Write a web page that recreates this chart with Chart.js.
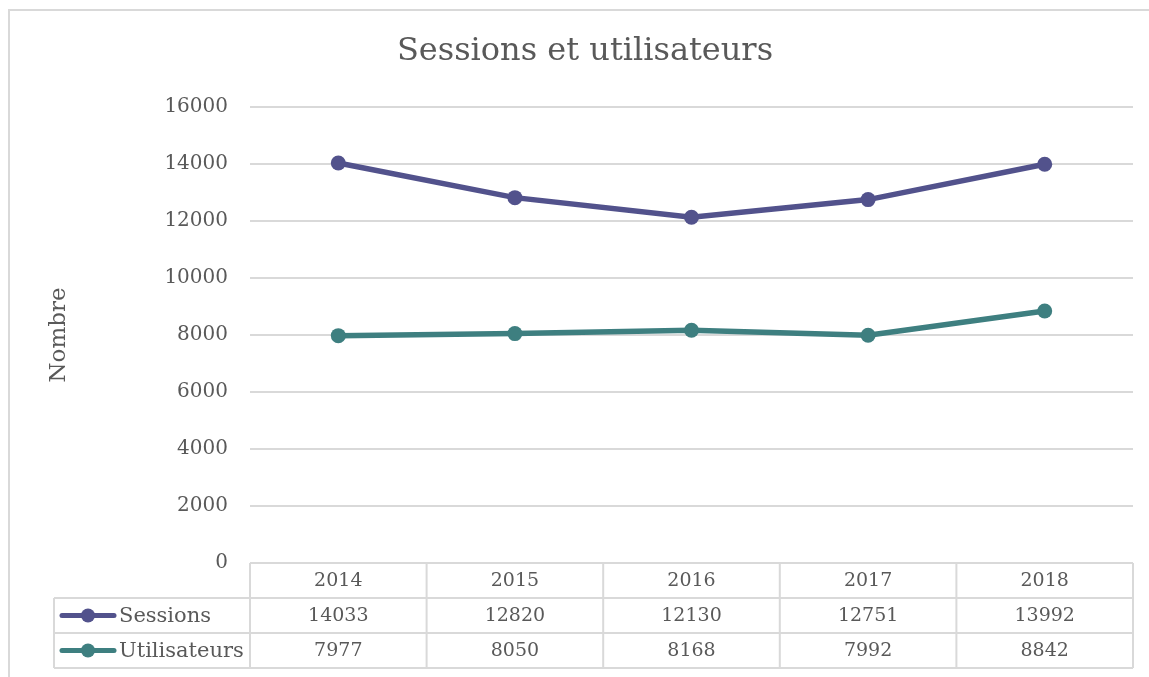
<!DOCTYPE html>
<html>
<head>
<meta charset="utf-8">
<script src="https://cdn.jsdelivr.net/npm/chart.js@4"></script>
<style>
  body { margin: 0; background: #fff; }
  #wrap { width: 1149px; height: 677px; }
</style>
</head>
<body>
<div id="wrap"><canvas id="sessionsChart"></canvas></div>
<script>
'use strict';

let years = ['2014', '2015', '2016', '2017', '2018'];
let sessions = [14033, 12820, 12130, 12751, 13992];
let utilisateurs = [7977, 8050, 8168, 7992, 8842];
let yTicks = [0, 2000, 4000, 6000, 8000, 10000, 12000, 14000, 16000];

let textColor = '#595959';
let gridColor = '#d9d9d9';
let serif = "'DejaVu Serif', Georgia, serif";

// excel-like data table under the plot, plus the outer frame and title
let tablePlugin = {
  id: 'dataTable',
  afterDraw(chart) {
    let ctx = chart.ctx;
    let area = chart.chartArea;
    let xScale = chart.scales.x;
    let rowH = 35;
    let top = area.bottom;
    let legendLeft = 54;

    ctx.save();
    // outer frame
    ctx.strokeStyle = gridColor;
    ctx.lineWidth = 2;
    ctx.beginPath();
    ctx.moveTo(9, 677);
    ctx.lineTo(9, 10);
    ctx.lineTo(1149, 10);
    ctx.stroke();

    // title
    ctx.fillStyle = textColor;
    ctx.font = '32px ' + serif;
    ctx.textAlign = 'center';
    ctx.textBaseline = 'middle';
    ctx.fillText('Sessions et utilisateurs', 585, 52);

    // column edges
    let edges = [area.left];
    for (let i = 0; i < years.length - 1; i++) {
      edges.push((xScale.getPixelForValue(i) + xScale.getPixelForValue(i + 1)) / 2);
    }
    edges.push(area.right);

    ctx.strokeStyle = gridColor;
    ctx.lineWidth = 2;
    ctx.beginPath();
    // horizontal lines
    ctx.moveTo(area.left, top);
    ctx.lineTo(area.right, top);
    for (let r = 1; r <= 3; r++) {
      ctx.moveTo(legendLeft, top + r * rowH);
      ctx.lineTo(area.right, top + r * rowH);
    }
    // vertical lines
    for (let i = 0; i < edges.length; i++) {
      ctx.moveTo(edges[i], top);
      ctx.lineTo(edges[i], top + 3 * rowH);
    }
    ctx.moveTo(legendLeft, top + rowH);
    ctx.lineTo(legendLeft, top + 3 * rowH);
    ctx.stroke();

    ctx.font = '19px ' + serif;
    ctx.fillStyle = textColor;
    ctx.textAlign = 'center';
    for (let i = 0; i < years.length; i++) {
      let cx = xScale.getPixelForValue(i);
      ctx.fillText(years[i], cx, top + rowH / 2 + 1);
      ctx.fillText(String(sessions[i]), cx, top + rowH * 1.5 + 1);
      ctx.fillText(String(utilisateurs[i]), cx, top + rowH * 2.5 + 1);
    }

    // legend keys
    chart.data.datasets.forEach(function (ds, k) {
      let cy = top + rowH * (k + 1.5);
      ctx.strokeStyle = ds.borderColor;
      ctx.lineWidth = 5;
      ctx.lineCap = 'round';
      ctx.beginPath();
      ctx.moveTo(62, cy);
      ctx.lineTo(114, cy);
      ctx.stroke();
      ctx.fillStyle = ds.borderColor;
      ctx.beginPath();
      ctx.arc(88, cy, 7, 0, Math.PI * 2);
      ctx.fill();
      ctx.fillStyle = textColor;
      ctx.textAlign = 'left';
      ctx.font = '21px ' + serif;
      ctx.fillText(ds.label, 119, cy + 1);
    });
    ctx.restore();
  }
};

let config = {
  type: 'line',
  data: {
    labels: years,
    datasets: [
      {
        label: 'Sessions',
        data: sessions,
        borderColor: '#52528c',
        backgroundColor: '#52528c',
        borderWidth: 5.5,
        pointRadius: 7.5,
        pointBorderWidth: 0,
        tension: 0
      },
      {
        label: 'Utilisateurs',
        data: utilisateurs,
        borderColor: '#3e7f80',
        backgroundColor: '#3e7f80',
        borderWidth: 5.5,
        pointRadius: 7.5,
        pointBorderWidth: 0,
        tension: 0
      }
    ]
  },
  options: {
    responsive: true,
    maintainAspectRatio: false,
    animation: false,
    layout: {
      padding: { left: 0, right: 16, top: 107, bottom: 114 }
    },
    plugins: {
      legend: { display: false },
      title: { display: false },
      tooltip: { enabled: false }
    },
    scales: {
      x: {
        display: false,
        offset: true
      },
      y: {
        min: 0,
        max: 16000,
        afterBuildTicks(scale) {
          scale.ticks = yTicks.map(function (v) { return { value: v }; });
        },
        afterFit(scale) {
          scale.width = 250;
        },
        border: { display: false },
        grid: {
          color: gridColor,
          lineWidth: 2,
          drawTicks: false
        },
        ticks: {
          color: textColor,
          padding: 22,
          font: { family: serif, size: 20 },
          callback: function (value) { return String(value); }
        },
        title: {
          display: true,
          text: 'Nombre',
          color: textColor,
          font: { family: serif, size: 23 },
          padding: { top: 45, bottom: 0 }
        }
      }
    }
  },
  plugins: [tablePlugin]
};

let myChart = new Chart(document.getElementById('sessionsChart'), config);
</script>
</body>
</html>
